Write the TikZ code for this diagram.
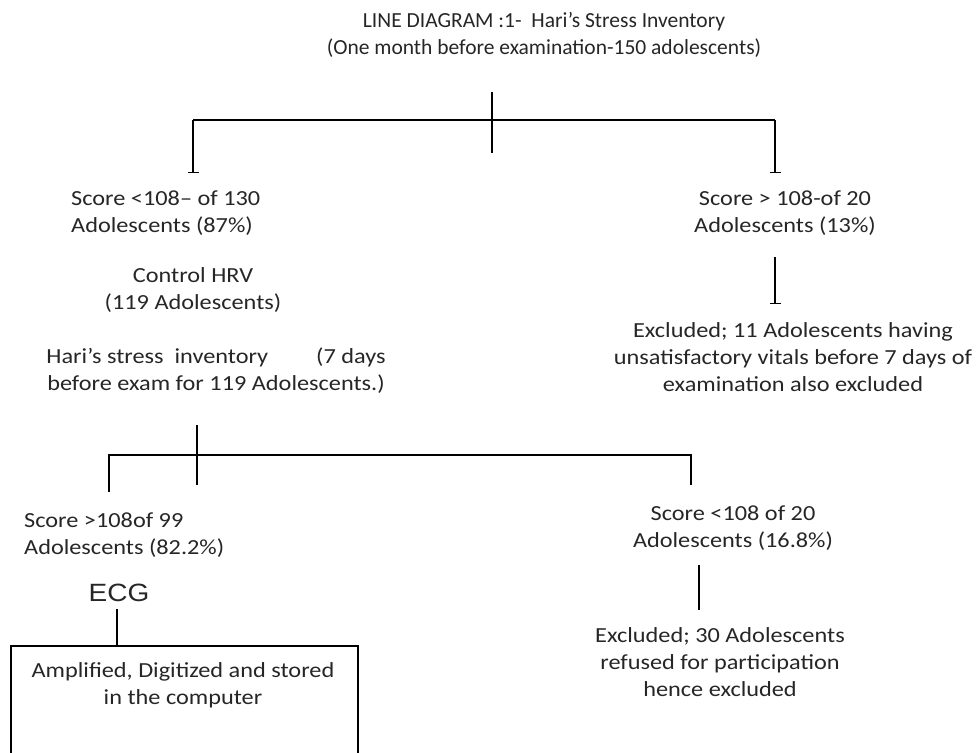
\documentclass[tikz,border=0pt]{standalone}
\usepackage{fontspec}
\setmainfont{Carlito}
\newfontfamily\bodyf[FakeStretch=1.13]{Carlito}
\newfontfamily\arialf[FakeStretch=1.12]{Liberation Sans}
\usetikzlibrary{arrows.meta}
\begin{document}
\begin{tikzpicture}[x=1pt,y=-1pt,
  ttl/.style={font=\fontsize{21.5}{27}\selectfont, align=center, inner sep=0pt, text=black!85},
  txt/.style={font=\bodyf\fontsize{21.5}{27}\selectfont, align=center, inner sep=0pt, text=black!85},
  ln/.style={line width=1.1pt},
  teeline/.style={ln, -{Bar[width=11pt,line width=1.1pt]}},
  boxsty/.style={draw, line width=1.1pt}]
\useasboundingbox (0,0) rectangle (979,752);

% top
\node[ttl] (title) at (544,35) {LINE DIAGRAM :1-\ \ Hari's Stress Inventory\\(One month before examination-150 adolescents)};
\coordinate (t1) at (492,92);
\coordinate (t2) at (492,153);
\coordinate (hl) at (193,120);
\coordinate (hr) at (775,120);
\coordinate (lend) at (193,173);
\coordinate (rend) at (775,173);
\draw[ln] (t1) -- (t2);
\draw[ln] (hl) -- (hr);
\draw[teeline] (hl) -- (lend);
\draw[teeline] (hr) -- (rend);

% left branch
\node[txt, align=left, anchor=west] (L1) at (71,213) {Score <108– of 130\\Adolescents (87\%)};
\node[txt] (ctrl) at (193,290) {Control HRV\\(119 Adolescents)};
\node[txt] (hsi) at (216,371) {Hari’s stress\ \ inventory\hspace{48pt}(7 days\\before exam for 119 Adolescents.)};

% right branch
\node[txt] (R1) at (785,213) {Score > 108-of 20\\Adolescents (13\%)};
\coordinate (r1a) at (775,257);
\coordinate (r1b) at (775,304);
\draw[teeline] (r1a) -- (r1b);
\node[txt] (ex1) at (793,357) {Excluded; 11 Adolescents having\\unsatisfactory vitals before 7 days of\\examination also excluded};

% second tree
\coordinate (s1) at (197,425);
\coordinate (s2) at (197,485);
\coordinate (sl) at (109,455);
\coordinate (sr) at (691,455);
\coordinate (slend) at (109,492);
\coordinate (srend) at (691,485);
\draw[ln] (s1) -- (s2);
\draw[ln] (slend) -- (sl) -- (sr) -- (srend);

\node[txt, align=left, anchor=west] (L2) at (24,535) {Score >108of 99\\Adolescents (82.2\%)};
\node[txt] (R2) at (733,528) {Score <108 of 20\\Adolescents (16.8\%)};
\coordinate (r2a) at (699,565);
\coordinate (r2b) at (699,610);
\draw[ln] (r2a) -- (r2b);
\node[txt] (ex2) at (720,662) {Excluded; 30 Adolescents\\refused for participation\\hence excluded};

% ECG
\node[font=\arialf\fontsize{25}{28}\selectfont, inner sep=0pt, text=black!85] (ecg) at (119,593) {ECG};
\draw[boxsty] (11,646) rectangle (358,758);
\coordinate (boxtop) at (117,646);
\coordinate (ecgbot) at (117,609);
\draw[ln] (ecgbot) -- (boxtop);
\node[txt] (boxtxt) at (183,685) {Amplified, Digitized and stored\\in the computer};
\end{tikzpicture}
\end{document}
